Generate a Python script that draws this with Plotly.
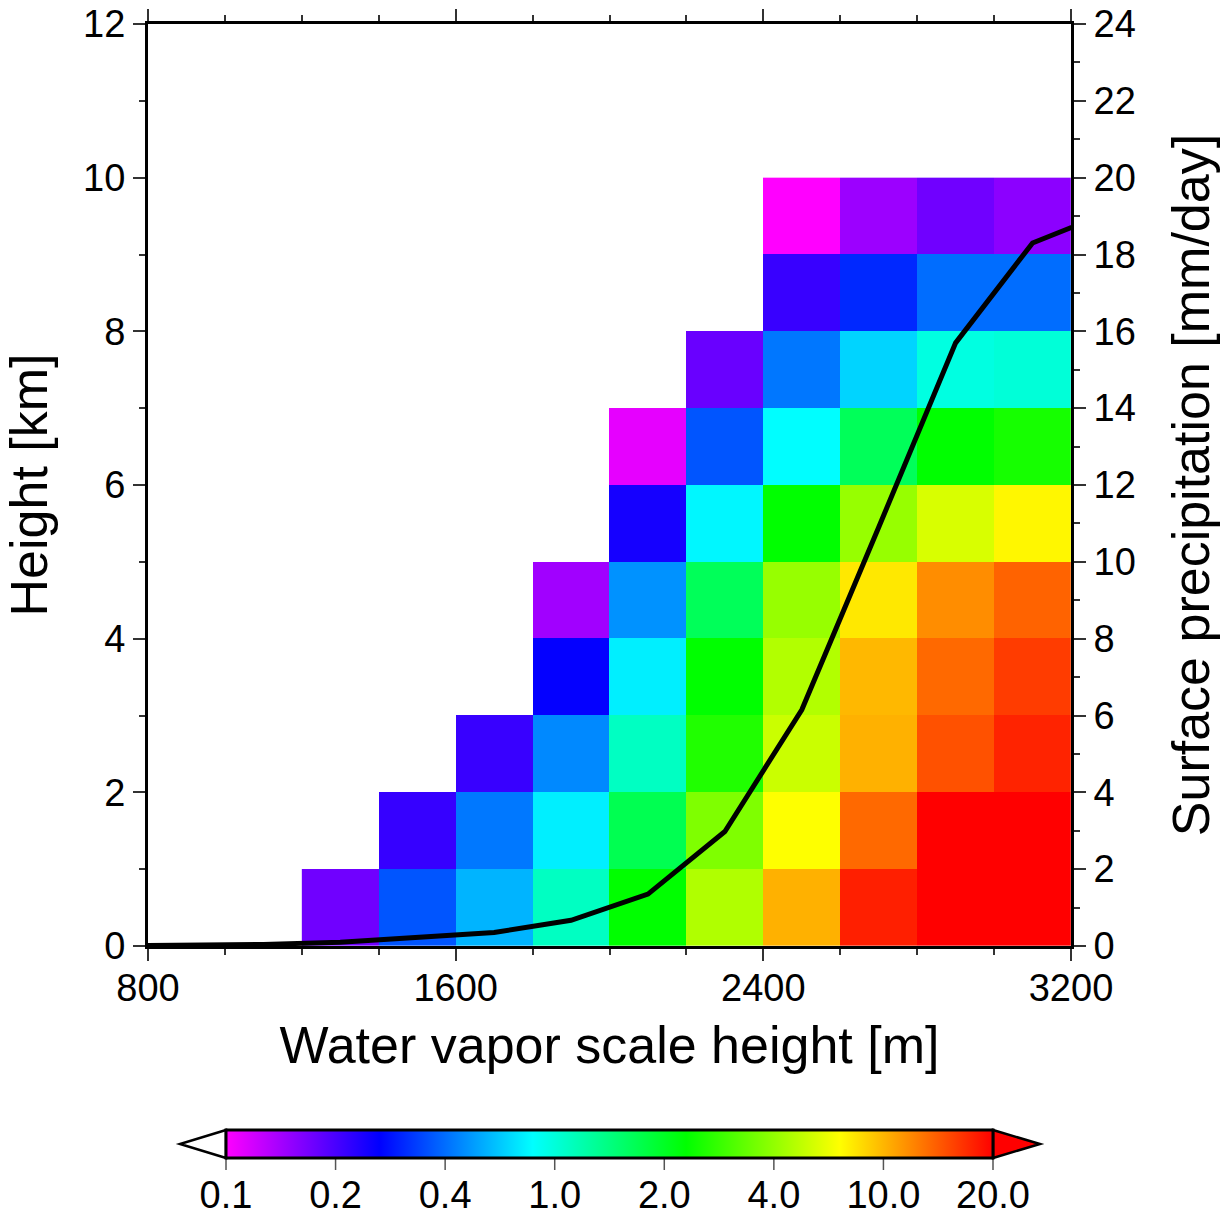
import numpy as np
import plotly.graph_objects as go

# ---------------- data ----------------
levels = [0.1, 0.2, 0.4, 1.0, 2.0, 4.0, 10.0, 20.0]
level_labels = ["0.1", "0.2", "0.4", "1.0", "2.0", "4.0", "10.0", "20.0"]

x_edges = [1200, 1400, 1600, 1800, 2000, 2200, 2400, 2600, 2800, 3000, 3200]
y_edges = [0, 1, 2, 3, 4, 5, 6, 7, 8, 9, 10]

# values per scale-height bin, listed from the lowest height bin upward
col_1200 = [0.172]
col_1400 = [0.365, 0.215]
col_1600 = [0.570, 0.422, 0.213]
col_1800 = [1.10, 0.77, 0.46, 0.26, 0.143]
col_2000 = [2.30, 1.69, 1.10, 0.77, 0.48, 0.244, 0.110]
col_2200 = [4.66, 3.73, 2.59, 2.30, 1.64, 0.80, 0.365, 0.177]
col_2400 = [10.2, 6.9, 5.3, 4.7, 4.1, 2.3, 0.83, 0.42, 0.213, 0.10]
col_2600 = [17.8, 13.4, 10.2, 9.9, 7.8, 4.1, 1.64, 0.67, 0.307, 0.146]
col_2800 = [24.0, 21.0, 14.7, 13.4, 11.7, 5.7, 2.3, 0.97, 0.40, 0.172]
col_3000 = [26.0, 23.0, 17.5, 15.9, 13.7, 7.2, 2.5, 1.01, 0.40, 0.155]
columns = [col_1200, col_1400, col_1600, col_1800, col_2000,
           col_2200, col_2400, col_2600, col_2800, col_3000]

scale_height = [700, 900, 1100, 1300, 1500, 1700, 1900, 2100, 2300, 2500, 2700, 2900, 3100, 3300]
precip = [0.0, 0.01, 0.04, 0.10, 0.22, 0.35, 0.67, 1.35, 2.98, 6.15, 10.9, 15.7, 18.3, 19.1]

# ---------------- build grid (value -> colour-level index) ----------------
log_lev = np.log(levels)
n_rows = len(y_edges) - 1
z = []
for r in range(n_rows):
    row = []
    for col in columns:
        if r < len(col):
            row.append(float(np.interp(np.log(col[r]), log_lev, np.arange(len(levels)))))
        else:
            row.append(None)
    z.append(row)

rainbow = [[0.0, "#FF00FF"], [0.2, "#0000FF"], [0.4, "#00FFFF"],
           [0.6, "#00FF00"], [0.8, "#FFFF00"], [1.0, "#FF0000"]]

FONT = "Liberation Sans, Arial, Helvetica, sans-serif"
TICK_SIZE = 38
TITLE_SIZE = 52

# layout geometry (page pixels; body margin removed via post_script)
W, H = 1229, 1216
PL, PR, PT, PB = 148, 1071, 24, 946          # plot area on the page
L, R, T, B = PL, W - PR, PT, H - PB
PW, PH = W - L - R, H - T - B
CB_X0, CB_X1, CB_Y0, CB_Y1 = 226, 993, 1130, 1158


def px(xp):
    return (xp - L) / PW


def py(yp):
    return (H - B - yp) / PH


fig = go.Figure()
fig.add_trace(go.Heatmap(
    x=x_edges, y=y_edges, z=z,
    colorscale=rainbow, zmin=0, zmax=len(levels) - 1,
    hoverongaps=False,
    colorbar=dict(
        orientation="h",
        x=px((CB_X0 + CB_X1) / 2), xanchor="center",
        y=py(CB_Y0), yanchor="top",
        len=CB_X1 - CB_X0, lenmode="pixels",
        thickness=CB_Y1 - CB_Y0, thicknessmode="pixels",
        xpad=0, ypad=0,
        outlinewidth=3, outlinecolor="black",
        tickvals=list(range(len(levels))), ticktext=level_labels,
        ticks="outside", ticklen=3, tickcolor="rgba(0,0,0,0)",
        tickfont=dict(family=FONT, size=TICK_SIZE, color="black"),
    ),
))

fig.add_trace(go.Scatter(
    x=scale_height, y=precip, yaxis="y2", mode="lines",
    line=dict(color="black", width=5), showlegend=False,
))

axis_common = dict(
    showgrid=False, zeroline=False, showline=True, linecolor="black", linewidth=3,
    ticks="outside", ticklen=12, tickwidth=1.5, tickcolor="#333",
    tickfont=dict(family=FONT, size=TICK_SIZE, color="black"),
    ticklabeloverflow="allow", automargin=False,
)

fig.update_layout(
    width=W, height=H,
    margin=dict(l=L, r=R, t=T, b=B, autoexpand=False),
    paper_bgcolor="white", plot_bgcolor="white",
    showlegend=False,
    xaxis=dict(
        range=[800, 3200], tick0=800, dtick=800, mirror="ticks",
        ticklabelstandoff=-6,
        minor=dict(dtick=200, ticklen=6, tickwidth=1.5, ticks="outside", tickcolor="#333"),
        title=dict(text="Water vapor scale height [m]", standoff=20,
                   font=dict(family=FONT, size=TITLE_SIZE, color="black")),
        **axis_common,
    ),
    yaxis=dict(
        range=[0, 12], tick0=0, dtick=2,
        minor=dict(dtick=1, ticklen=6, tickwidth=1.5, ticks="outside", tickcolor="#333"),
        title=dict(text="Height [km]", standoff=22,
                   font=dict(family=FONT, size=TITLE_SIZE, color="black")),
        **axis_common,
    ),
    yaxis2=dict(
        overlaying="y", side="right",
        range=[0, 24], tick0=0, dtick=2,
        minor=dict(dtick=1, ticklen=6, tickwidth=1.5, ticks="outside", tickcolor="#333"),
        title=dict(text="Surface precipitation [mm/day]", standoff=38,
                   font=dict(family=FONT, size=TITLE_SIZE, color="black")),
        **axis_common,
    ),
)

# colorbar decorations: dividers/ticks and end triangles
shapes = []
n = len(levels) - 1
for k in range(0, n + 1):
    xp = CB_X0 + k * (CB_X1 - CB_X0) / n
    if 0 < k < n:
        shapes.append(dict(type="line", xref="paper", yref="paper",
                           x0=px(xp), x1=px(xp), y0=py(CB_Y0), y1=py(CB_Y1),
                           line=dict(color="black", width=1.5)))
    shapes.append(dict(type="line", xref="paper", yref="paper",
                       x0=px(xp), x1=px(xp), y0=py(CB_Y1), y1=py(CB_Y1 + 12),
                       line=dict(color="#555", width=1.5)))
ym = (CB_Y0 + CB_Y1) / 2
left_tri = f"M {px(CB_X0)},{py(CB_Y0)} L {px(CB_X0 - 46)},{py(ym)} L {px(CB_X0)},{py(CB_Y1)} Z"
right_tri = f"M {px(CB_X1)},{py(CB_Y0)} L {px(CB_X1 + 47)},{py(ym)} L {px(CB_X1)},{py(CB_Y1)} Z"
shapes.append(dict(type="path", xref="paper", yref="paper", path=left_tri,
                   fillcolor="white", line=dict(color="black", width=2.5)))
shapes.append(dict(type="path", xref="paper", yref="paper", path=right_tri,
                   fillcolor="#FF0000", line=dict(color="black", width=2.5)))
fig.update_layout(shapes=shapes)

fig.write_html(
    "out.html",
    config={"displayModeBar": False},
    post_script="document.body.style.margin='0';document.body.style.overflow='hidden';",
)
